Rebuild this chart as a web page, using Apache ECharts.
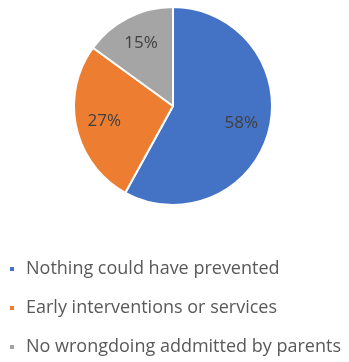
<!DOCTYPE html>
<html>
<head>
<meta charset="utf-8">
<script src="https://cdn.jsdelivr.net/npm/echarts@6/dist/echarts.min.js"></script>
<style>
  html, body { margin: 0; padding: 0; background: #fff; }
  #main { width: 349px; height: 362px; }
</style>
</head>
<body>
<div id="main"></div>
<script>
// slices, clockwise from 12 o'clock
var categories = ['Nothing could have prevented', 'Early interventions or services', 'No wrongdoing addmitted by parents'];
var values = [58, 27, 15];
var colors = ['#4472C4', '#ED7D31', '#A5A5A5'];

var chart = echarts.init(document.getElementById('main'));

var sliceData = [];
for (var i = 0; i < categories.length; i++) {
  sliceData.push({ name: categories[i], value: values[i], itemStyle: { color: colors[i] } });
}

var option = {
  animation: false,
  legend: {
    orient: 'vertical',
    left: 3,
    top: 255,
    itemGap: 21,
    itemWidth: 6,
    itemHeight: 6,
    icon: 'rect',
    data: categories,
    textStyle: { color: '#595959', fontSize: 18, fontFamily: 'Open Sans', padding: [0, 0, 0, 6] }
  },
  series: [{
    type: 'pie',
    center: [173, 106],
    radius: [0, 99],
    startAngle: 90,
    label: { show: false },
    labelLine: { show: false },
    itemStyle: { borderColor: '#fff', borderWidth: 2 },
    data: sliceData
  }, {
    // invisible ring, only carries the % labels further out
    type: 'pie',
    silent: true,
    center: [173, 106],
    radius: [36, 99],
    startAngle: 90,
    itemStyle: { color: 'rgba(0,0,0,0)' },
    label: {
      show: true,
      position: 'inside',
      formatter: '{c}%',
      color: '#404040',
      fontSize: 17,
      fontFamily: 'Open Sans'
    },
    labelLine: { show: false },
    data: categories.map(function (c, i) { return { name: c, value: values[i] }; })
  }]
};

chart.setOption(option);
</script>
</body>
</html>
